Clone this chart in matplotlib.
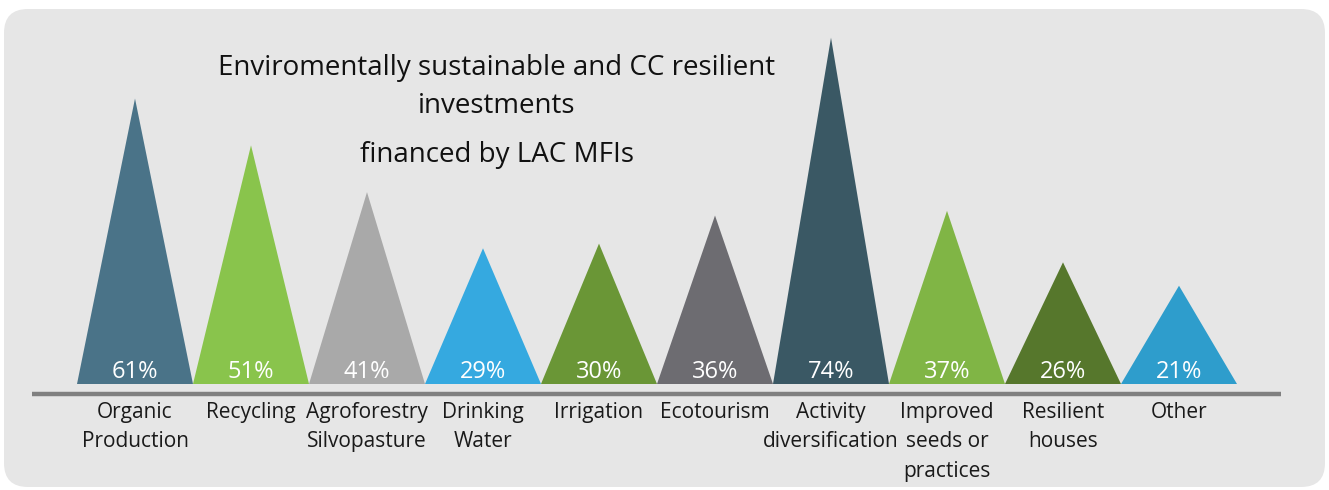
import matplotlib
matplotlib.use("Agg")
import matplotlib.pyplot as plt
from matplotlib.patches import FancyBboxPatch, Polygon

categories = ["Organic\nProduction", "Recycling", "Agroforestry\nSilvopasture", "Drinking\nWater",
              "Irrigation", "Ecotourism", "Activity\ndiversification", "Improved\nseeds or\npractices",
              "Resilient\nhouses", "Other"]
values = [61, 51, 41, 29, 30, 36, 74, 37, 26, 21]
colors = ["#4a7388", "#89c44c", "#a9a9a9", "#35a9e0", "#6a9636", "#6d6c71",
          "#3a5864", "#80b545", "#56772c", "#2e9dcc"]
title_lines = ["Enviromentally sustainable and CC resilient", "investments", "financed by LAC MFIs"]

W, H = 1329, 490
fig = plt.figure(figsize=(W / 100, H / 100), dpi=100)
fig.patch.set_facecolor("white")

# background panel
panel = FancyBboxPatch((4 / W, 3 / H), 1321 / W, 478 / H,
                       boxstyle="round,pad=0,rounding_size=0.018",
                       transform=fig.transFigure, facecolor="#e6e6e6",
                       edgecolor="none", mutation_aspect=W / H, zorder=-5)
fig.patches.append(panel)

FONT = "Open Sans"
base_px = 384
px_per_unit = 4.68
ax = fig.add_axes([0, (H - base_px) / H, 1, base_px / H])
ax.set_xlim(-135 / 116, (W - 135) / 116)
ax.set_ylim(0, base_px / px_per_unit)
ax.axis("off")
ax.patch.set_alpha(0)

for i, (v, c) in enumerate(zip(values, colors)):
    tri = Polygon([(i - 0.5, 0), (i + 0.5, 0), (i, v)], closed=True,
                  facecolor=c, edgecolor="none")
    ax.add_patch(tri)
    ax.text(i, 12 / px_per_unit, f"{v}%", ha="center", va="center", color="white",
            fontsize=17, family=FONT)
    ax.text(i, -18 / px_per_unit, categories[i], ha="center", va="top", color="#1a1a1a",
            fontsize=15, family=FONT, linespacing=1.52, clip_on=False)

# baseline
ax.plot([-103 / 116, (1281 - 135) / 116], [-10 / px_per_unit] * 2,
        color="#808080", lw=3.2, solid_capstyle="butt", clip_on=False)

ys = [68, 106, 155]
for t, y in zip(title_lines, ys):
    fig.text(497 / W, 1 - y / H, t, ha="center", va="center", fontsize=20,
             family=FONT, color="#111111")

fig.savefig("out.png", dpi=100, facecolor="white")
